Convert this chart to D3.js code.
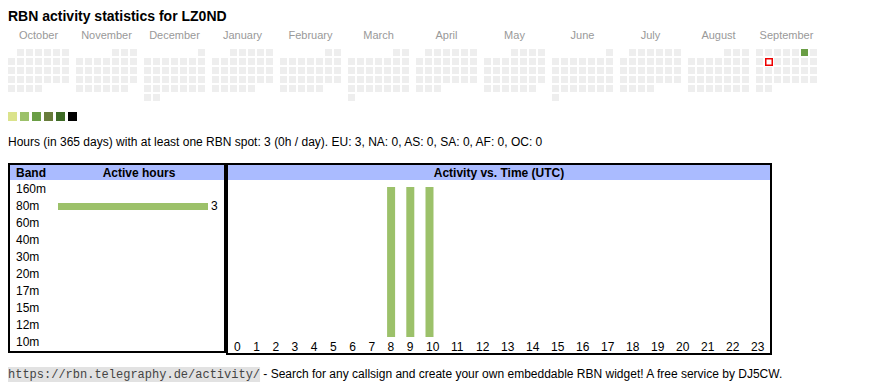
<!DOCTYPE html>
<html>
<head>
<meta charset="utf-8">
<script src="https://cdn.jsdelivr.net/npm/d3@7"></script>
<style>
  body { margin: 0; background: #fff; }
  text { font-family: "Liberation Sans", Arial, sans-serif; }
</style>
</head>
<body>
<svg id="chart" width="870" height="390"></svg>
<script>
const callsign = 'LZ0ND';
const monthNames = ['October', 'November', 'December', 'January', 'February', 'March',
  'April', 'May', 'June', 'July', 'August', 'September'];
const firstDay = '2024-10-01';
const lastDay = '2025-09-30';
const today = '2025-09-09';
const activeDays = ['2025-09-06'];
const activeDayHours = [3];
const levelColors = ['#dbe38c', '#9cc16a', '#6a9e45', '#687c3b', '#3e6b26', '#000000'];
const levelThresholds = [1, 2, 3, 6, 12, 24];

const bands = ['160m', '80m', '60m', '40m', '30m', '20m', '17m', '15m', '12m', '10m'];
const bandHours = [0, 3, 0, 0, 0, 0, 0, 0, 0, 0];

const hours = [0, 1, 2, 3, 4, 5, 6, 7, 8, 9, 10, 11, 12, 13, 14, 15, 16, 17, 18, 19, 20, 21, 22, 23];
const hourSpots = [0, 0, 0, 0, 0, 0, 0, 0, 1, 1, 1, 0, 0, 0, 0, 0, 0, 0, 0, 0, 0, 0, 0, 0];

const totalHours = 3;
const perDay = '0h';
const continents = ['EU', 'NA', 'AS', 'SA', 'AF', 'OC'];
const continentHours = [3, 0, 0, 0, 0, 0];

const svg = d3.select('#chart');
const barColor = levelColors[1];
const headBg = '#aabbff';

// Titel
svg.append('text')
  .attr('x', 8).attr('y', 21)
  .attr('font-size', 14).attr('font-weight', 'bold')
  .text('RBN activity statistics for ' + callsign);

// Kalender
const parse = d3.utcParse('%Y-%m-%d');
const fmt = d3.utcFormat('%Y-%m-%d');
const start = parse(firstDay);
const days = d3.utcDay.range(start, d3.utcDay.offset(parse(lastDay), 1));
const dayHours = new Map(activeDays.map((d, i) => [d, activeDayHours[i]]));

const monthX = d3.scaleLinear().domain([0, 1]).range([8, 76]);
const colX = d3.scaleLinear().domain([0, 1]).range([0, 9]);
const rowY = d3.scaleLinear().domain([0, 1]).range([49, 58]);
const level = d3.scaleThreshold().domain(levelThresholds).range(['#eeeeee', ...levelColors]);

const weekday = d => (d.getUTCDay() + 6) % 7;
const monthIndex = d => (d.getUTCFullYear() - start.getUTCFullYear()) * 12 + d.getUTCMonth() - start.getUTCMonth();
const weekRow = d => {
  const first = new Date(Date.UTC(d.getUTCFullYear(), d.getUTCMonth(), 1));
  return Math.floor((d.getUTCDate() - 1 + weekday(first)) / 7);
};

svg.append('g').selectAll('text')
  .data(monthNames)
  .join('text')
  .attr('x', (d, i) => monthX(i) + 30.5)
  .attr('y', 39)
  .attr('text-anchor', 'middle')
  .attr('font-size', 11)
  .attr('fill', '#999')
  .text(d => d);

const cal = svg.append('g');
cal.selectAll('rect')
  .data(days)
  .join('rect')
  .attr('x', d => monthX(monthIndex(d)) + colX(weekday(d)))
  .attr('y', d => rowY(weekRow(d)))
  .attr('width', 7).attr('height', 7)
  .attr('fill', d => level(dayHours.get(fmt(d)) || 0));

const t = parse(today);
cal.append('rect')
  .attr('x', monthX(monthIndex(t)) + colX(weekday(t)) + 0.75)
  .attr('y', rowY(weekRow(t)) + 0.75)
  .attr('width', 6.5).attr('height', 6.5)
  .attr('fill', '#fff')
  .attr('stroke', '#e00').attr('stroke-width', 1.5);

// Legende
svg.append('g').selectAll('rect')
  .data(levelColors)
  .join('rect')
  .attr('x', (d, i) => 8 + i * 12)
  .attr('y', 112)
  .attr('width', 9).attr('height', 9)
  .attr('fill', d => d);

svg.append('text')
  .attr('x', 8).attr('y', 146)
  .attr('font-size', 12)
  .text(`Hours (in 365 days) with at least one RBN spot: ${totalHours} (${perDay} / day). ` +
    continents.map((c, i) => `${c}: ${continentHours[i]}`).join(', '));

// Tabelle links: Baender
const left = svg.append('g');
left.append('rect').attr('x', 9).attr('y', 164).attr('width', 216).attr('height', 188)
  .attr('fill', 'none').attr('stroke', '#000').attr('stroke-width', 2);
left.append('rect').attr('x', 10).attr('y', 165).attr('width', 214).attr('height', 15).attr('fill', headBg);
left.append('text').attr('x', 16).attr('y', 177).attr('font-size', 12).attr('font-weight', 'bold').text('Band');
left.append('text').attr('x', 139).attr('y', 177).attr('font-size', 12).attr('font-weight', 'bold')
  .attr('text-anchor', 'middle').text('Active hours');

const yBand = d3.scaleBand().domain(bands).range([181, 351]);
const xBand = d3.scaleLinear().domain([0, d3.max(bandHours)]).range([0, 150]);
const bandRows = bands.map((b, i) => ({ band: b, hours: bandHours[i] }));

left.selectAll('.blabel')
  .data(bandRows)
  .join('text')
  .attr('class', 'blabel')
  .attr('x', 16)
  .attr('y', d => yBand(d.band) + 12.3)
  .attr('font-size', 12)
  .text(d => d.band);

left.selectAll('.bbar')
  .data(bandRows.filter(d => d.hours > 0))
  .join('rect')
  .attr('class', 'bbar')
  .attr('x', 58)
  .attr('y', d => yBand(d.band) + yBand.bandwidth() / 2 - 3.5)
  .attr('width', d => xBand(d.hours))
  .attr('height', 7)
  .attr('fill', barColor);

left.selectAll('.bval')
  .data(bandRows.filter(d => d.hours > 0))
  .join('text')
  .attr('class', 'bval')
  .attr('x', d => 58 + xBand(d.hours) + 3)
  .attr('y', d => yBand(d.band) + 12.3)
  .attr('font-size', 12)
  .text(d => d.hours);

// Tabelle rechts: Aktivitaet nach Stunde
const right = svg.append('g');
right.append('rect').attr('x', 227).attr('y', 164).attr('width', 544).attr('height', 190)
  .attr('fill', 'none').attr('stroke', '#000').attr('stroke-width', 2);
right.append('rect').attr('x', 228).attr('y', 165).attr('width', 542).attr('height', 15).attr('fill', headBg);
right.append('text').attr('x', 499).attr('y', 177).attr('font-size', 12).attr('font-weight', 'bold')
  .attr('text-anchor', 'middle').text('Activity vs. Time (UTC)');

// Spaltenbreiten wie in einer HTML-Tabelle: nach Textlaenge verteilt
const weights = hours.map(h => String(h).length + 2.31);
const wSum = d3.sum(weights);
const starts = [];
weights.reduce((acc, w) => { starts.push(acc); return acc + w / wSum * 542; }, 228);
const xHour = d3.scaleOrdinal().domain(hours).range(starts);
const yHour = d3.scaleLinear().domain([0, d3.max(hourSpots)]).range([337, 187]);

right.selectAll('.hbar')
  .data(hours.filter((h, i) => hourSpots[i] > 0))
  .join('rect')
  .attr('class', 'hbar')
  .attr('x', d => xHour(d) + 5.5)
  .attr('y', d => yHour(hourSpots[d]))
  .attr('width', 8)
  .attr('height', d => yHour(0) - yHour(hourSpots[d]))
  .attr('fill', barColor);

right.selectAll('.hlabel')
  .data(hours)
  .join('text')
  .attr('class', 'hlabel')
  .attr('x', d => xHour(d) + 6)
  .attr('y', 351)
  .attr('font-size', 12)
  .text(d => d);

// Fusszeile
const foot = svg.append('g');
const bg = foot.append('rect').attr('fill', '#e2e2e2');
const url = foot.append('text')
  .attr('x', 8).attr('y', 378)
  .attr('font-size', 12)
  .style('font-family', '"Liberation Mono", "Courier New", monospace')
  .attr('fill', '#444')
  .text('https://rbn.telegraphy.de/activity/');
const urlW = url.node().getComputedTextLength();
bg.attr('x', 8).attr('y', 367).attr('width', urlW).attr('height', 15);
foot.append('text')
  .attr('x', 8 + urlW + 3.3).attr('y', 378)
  .attr('font-size', 12)
  .text('- Search for any callsign and create your own embeddable RBN widget! A free service by DJ5CW.');
</script>
</body>
</html>
